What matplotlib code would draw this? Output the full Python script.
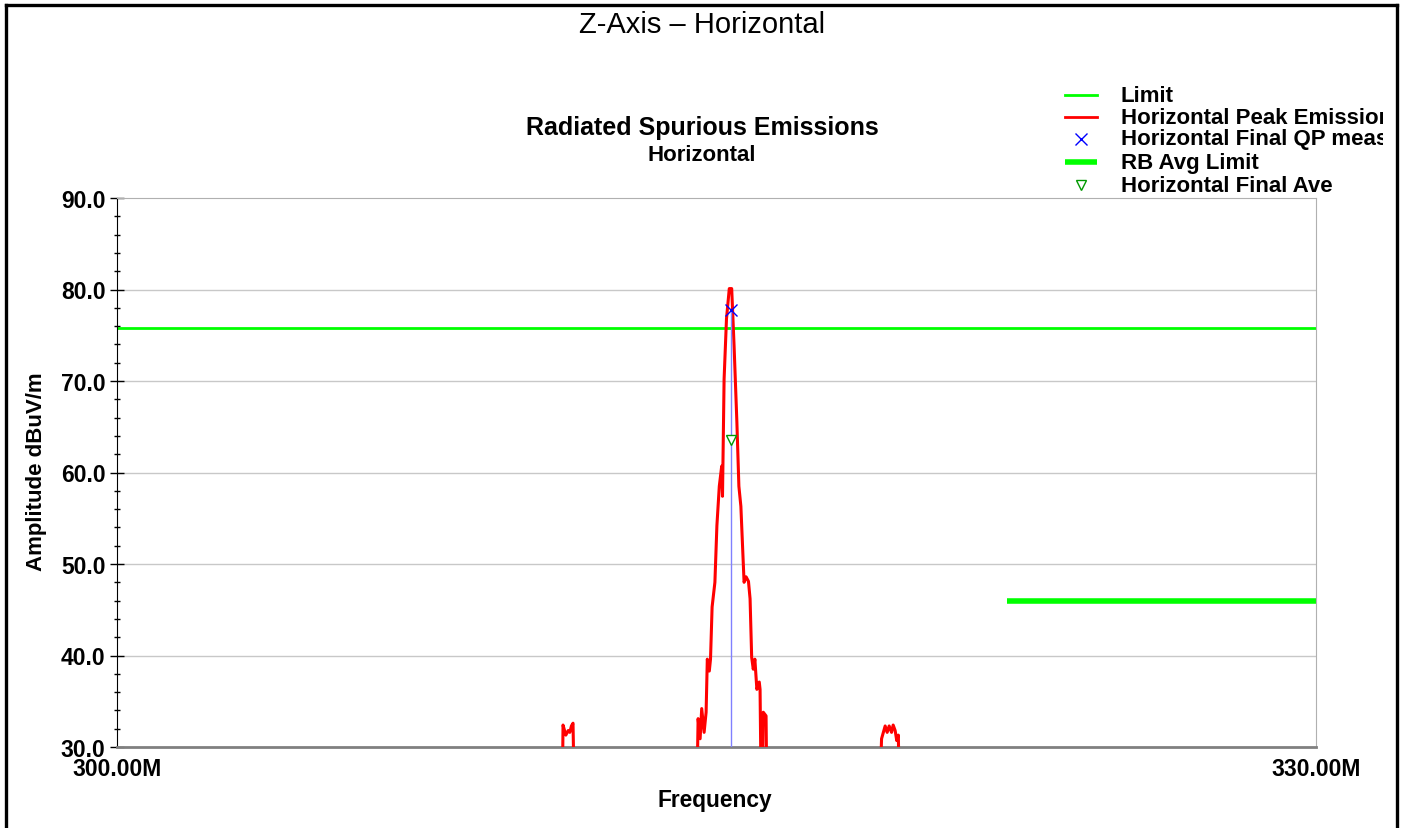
import numpy as np
import matplotlib
matplotlib.use('Agg')
import matplotlib.pyplot as plt
from matplotlib.lines import Line2D
from matplotlib.transforms import Bbox

plt.rcParams['font.family'] = ['Liberation Sans', 'DejaVu Sans']

# peak emission trace (MHz, dBuV/m); points under 30 sit below the axis
freq = [311.13, 311.16, 311.23, 311.29, 311.33, 311.37, 311.41, 311.46,
        314.49, 314.54, 314.59, 314.63, 314.69, 314.74, 314.77, 314.82, 314.85,
        314.89, 314.96, 315.01, 315.07, 315.13, 315.15, 315.19, 315.25, 315.32,
        315.38, 315.44, 315.51, 315.56, 315.61, 315.69, 315.74, 315.80, 315.84,
        315.88, 315.92, 315.96, 316.01, 316.07, 316.09, 316.13, 316.17, 316.24,
        316.27,
        319.05, 319.13, 319.22, 319.27, 319.32, 319.38, 319.42, 319.47, 319.51,
        319.55, 319.59]
peak = [20, 32.4, 31.3, 31.8, 31.6, 32.3, 32.6, 20,
        20, 33.1, 30.9, 34.2, 31.6, 33.8, 39.6, 38.3, 39.6,
        45.3, 48.0, 54.2, 58.5, 60.7, 57.4, 70.2, 76.8, 80.1,
        80.1, 73.8, 65.5, 58.5, 56.3, 48.0, 48.6, 48.1, 46.2,
        39.8, 38.5, 39.6, 36.3, 37.1, 36.3, 20, 33.8, 33.4,
        20,
        20, 30.9, 32.3, 31.6, 32.3, 31.6, 32.4, 31.8, 30.7,
        31.3, 20]

limit_level = 75.8
rb_start, rb_stop, rb_level = 322.27, 330.0, 46.0
qp_freq, qp_level = 315.36, 77.8
avg_freq, avg_level = 315.36, 63.6

fig = plt.figure(figsize=(14.03, 8.29), dpi=100)
ax = fig.add_axes([117 / 1403, 1 - 748 / 829, (1316 - 117) / 1403, (748 - 199) / 829])


def px(x, y):
    return x / 1403, 1 - y / 829


# outer frame
for xs, ys in [([6, 1397], [6, 6]), ([6, 6], [6, 829]), ([1397, 1397], [6, 829])]:
    p0 = px(xs[0], ys[0])
    p1 = px(xs[1], ys[1])
    fig.add_artist(Line2D([p0[0], p1[0]], [p0[1], p1[1]], transform=fig.transFigure,
                          color='black', lw=2.4, solid_capstyle='projecting'))

ax.set_xlim(300, 330)
ax.set_ylim(30, 90)
for y in range(40, 90, 10):
    ax.axhline(y, color='#c8c8c8', lw=1, zorder=0)

ax.axhline(limit_level, color='#00ff00', lw=2, zorder=2)
ax.plot([rb_start, rb_stop], [rb_level, rb_level], color='#00ff00', lw=4, zorder=2,
        solid_capstyle='butt')
ax.plot(freq, peak, color='#ff0000', lw=2.2, zorder=3)
ax.vlines(qp_freq, 30, qp_level, color='#8080ff', lw=1, zorder=4)
ax.plot(qp_freq, qp_level, 'x', color='#0000ff', ms=9, mew=1, zorder=5)
ax.plot(avg_freq, avg_level, 'v', mfc='white', mec='#009900', ms=7, mew=1, zorder=5)

ax.set_xticks([300, 330])
ax.set_xticklabels(['300.00M', '330.00M'])
ax.tick_params(axis='x', length=0, pad=7)
ax.set_yticks(np.arange(30, 91, 10))
ax.set_yticklabels(['%.1f' % v for v in np.arange(30, 91, 10)])
ax.set_yticks(np.arange(30, 91, 2), minor=True)
ax.tick_params(axis='y', which='major', direction='inout', length=9.4, width=1, pad=3.5)
ax.tick_params(axis='y', which='minor', direction='inout', length=5, width=1)
for lab in ax.get_xticklabels() + ax.get_yticklabels():
    lab.set_fontweight('bold')
    lab.set_fontsize(16.5)

ax.spines['left'].set_color('black')
ax.spines['top'].set_color('#b0b0b0')
ax.spines['right'].set_color('#b0b0b0')
ax.spines['bottom'].set_color('#808080')
ax.spines['bottom'].set_linewidth(2)

ax.set_xlabel('Frequency', fontsize=16.4, fontweight='bold')
ax.set_ylabel('Amplitude dBuV/m', fontsize=16, fontweight='bold')
ax.xaxis.set_label_coords((715 - 117) / 1199, (748 - 801) / 549)
ax.xaxis.label.set_va('center')
ax.yaxis.set_label_coords((37 - 117) / 1199, (748 - 472) / 549)
ax.yaxis.label.set_va('center')

fig.text(*px(702, 25), 'Z-Axis \u2013 Horizontal', ha='center', va='center', fontsize=21)
fig.text(*px(702, 128), 'Radiated Spurious Emissions', ha='center', va='center',
         fontsize=18, fontweight='bold')
fig.text(*px(702, 156), 'Horizontal', ha='center', va='center', fontsize=16,
         fontweight='bold')

# legend, clipped at the right like the original
clip = Bbox.from_extents(0, 0, 1383, 829)
labels = ['Limit', 'Horizontal Peak Emission', 'Horizontal Final QP measurement',
          'RB Avg Limit', 'Horizontal Final Ave']
rows = [96, 118, 140, 163, 186]
for lab, yy in zip(labels, rows):
    t = fig.text(*px(1121, yy), lab, ha='left', va='center', fontsize=16, fontweight='bold')
    t.set_clip_box(clip)
    t.set_clip_on(True)

h = [px(1065, rows[0]), px(1097, rows[0])]
fig.add_artist(Line2D([h[0][0], h[1][0]], [h[0][1], h[1][1]], transform=fig.transFigure,
                      color='#00ff00', lw=2))
h = [px(1065, rows[1]), px(1097, rows[1])]
fig.add_artist(Line2D([h[0][0], h[1][0]], [h[0][1], h[1][1]], transform=fig.transFigure,
                      color='#ff0000', lw=2))
m = px(1081, rows[2])
fig.add_artist(Line2D([m[0]], [m[1]], transform=fig.transFigure, marker='x', ls='none',
                      color='#0000ff', ms=9, mew=1))
h = [px(1065, rows[3]), px(1097, rows[3])]
fig.add_artist(Line2D([h[0][0], h[1][0]], [h[0][1], h[1][1]], transform=fig.transFigure,
                      color='#00ff00', lw=4, solid_capstyle='butt'))
m = px(1081, rows[4])
fig.add_artist(Line2D([m[0]], [m[1]], transform=fig.transFigure, marker='v', ls='none',
                      mfc='white', mec='#009900', ms=7, mew=1))

fig.savefig('out.png', dpi=100)
